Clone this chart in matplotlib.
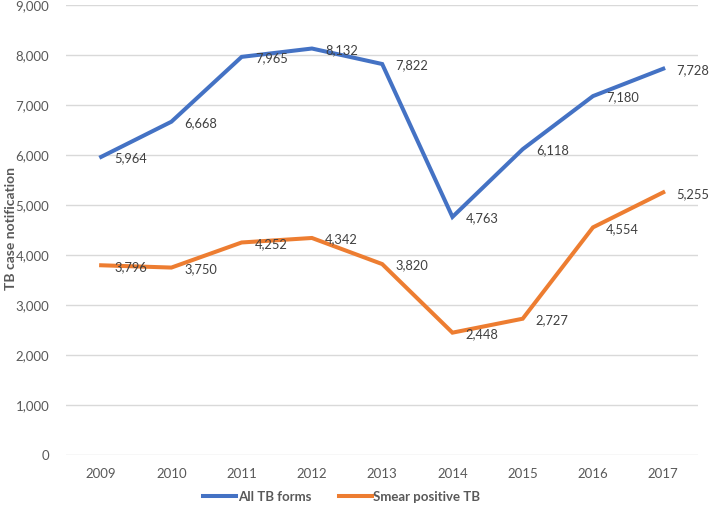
import numpy as np
import matplotlib
matplotlib.use("Agg")
import matplotlib.pyplot as plt
from matplotlib.ticker import FuncFormatter

# TB case notification per year
years = ['2009', '2010', '2011', '2012', '2013', '2014', '2015', '2016', '2017']
all_tb = [5964, 6668, 7965, 8132, 7822, 4763, 6118, 7180, 7728]
smear_pos = [3796, 3750, 4252, 4342, 3820, 2448, 2727, 4554, 5255]

blue = '#4472C4'
orange = '#ED7D31'

plt.rcParams['font.family'] = ['Lato', 'DejaVu Sans']

fig = plt.figure(figsize=(7.09, 5.13), dpi=100)
ax = fig.add_axes([0.0931, 0.113, 0.8919, 0.877])

x = np.arange(len(years))
ax.plot(x, all_tb, color=blue, lw=2.9, solid_joinstyle='miter', label='All TB forms', zorder=3)
ax.plot(x, smear_pos, color=orange, lw=2.9, solid_joinstyle='miter', label='Smear positive TB', zorder=3)

# data labels, to the right of each point
for xi, v in zip(x, all_tb):
    ax.annotate(f'{v:,}', (xi, v), xytext=(9.5, -1), textcoords='offset points',
                ha='left', va='center', fontsize=9.3, color='#404040')
for xi, v in zip(x, smear_pos):
    ax.annotate(f'{v:,}', (xi, v), xytext=(9.5, -1), textcoords='offset points',
                ha='left', va='center', fontsize=9.3, color='#404040')

ax.set_xlim(-0.5, len(years) - 0.5)
ax.set_ylim(0, 9000)
ax.set_yticks(np.arange(0, 9001, 1000))
ax.yaxis.set_major_formatter(FuncFormatter(lambda v, p: f'{int(v):,}'))
ax.set_xticks(x)
ax.set_xticklabels(years)
ax.tick_params(axis='both', length=0, labelsize=9.5, colors='#595959')
ax.tick_params(axis='y', pad=12)
ax.tick_params(axis='x', pad=9)
ax.grid(axis='y', color='#D9D9D9', lw=1)
ax.set_axisbelow(True)
for s in ax.spines.values():
    s.set_visible(False)

fig.text(11 / 709, 1 - 228 / 513, 'TB case notification', rotation=90, ha='center', va='center',
         fontsize=10, fontweight='bold', color='#595959')

leg = fig.legend(loc='center', bbox_to_anchor=(0.482, 0.032), ncol=2, frameon=False,
                 prop={'size': 9.5, 'weight': 'bold'}, handlelength=2.5,
                 handletextpad=0.1, columnspacing=2.1)
for t in leg.get_texts():
    t.set_color('#595959')

fig.savefig('out.png', dpi=100)
